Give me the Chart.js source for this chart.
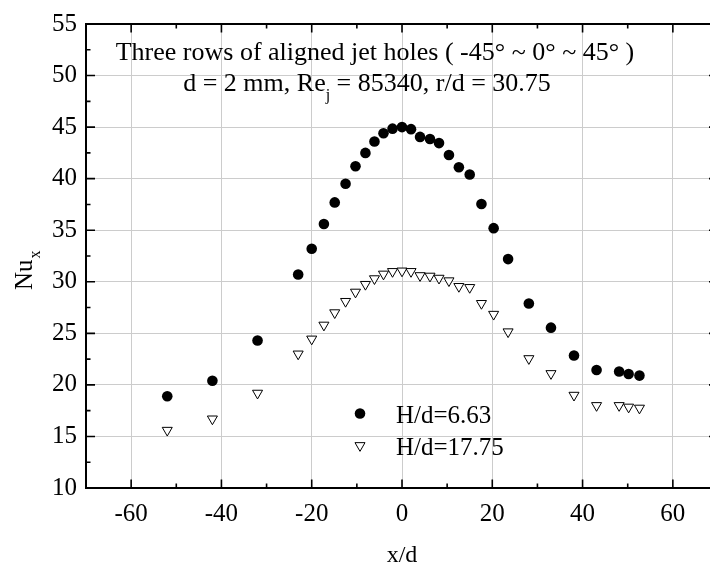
<!DOCTYPE html>
<html>
<head>
<meta charset="utf-8">
<script src="https://cdn.jsdelivr.net/npm/chart.js@4/dist/chart.umd.min.js"></script>
<style>
  html, body { margin: 0; padding: 0; background: #fff; overflow: hidden; }
  #wrap { width: 740px; height: 569px; }
</style>
</head>
<body>
<div id="wrap"><canvas id="nuChart" width="740" height="569"></canvas></div>
<script>
// x/d positions of the measurement points
const xOverD = [-52, -42, -32, -23, -20, -17.3, -14.9, -12.5, -10.3, -8.1, -6.1, -4.1, -2.1, 0, 2.0, 4.0,
  6.2, 8.2, 10.4, 12.6, 15.0, 17.6, 20.3, 23.5, 28.1, 33.0, 38.1, 43.1, 48.1, 50.2, 52.6];

// Nu_x for H/d = 6.63 (filled circles)
const nuH663 = [18.9, 20.4, 24.3, 30.7, 33.2, 35.6, 37.7, 39.5, 41.2, 42.5, 43.6, 44.4, 44.85, 45.0, 44.8, 44.05,
  43.85, 43.45, 42.3, 41.1, 40.4, 37.55, 35.2, 32.2, 27.9, 25.55, 22.85, 21.45, 21.3, 21.05, 20.9];

// Nu_x for H/d = 17.75 (open down triangles)
const nuH1775 = [15.6, 16.7, 19.2, 23.0, 24.45, 25.8, 27.0, 28.1, 29.0, 29.75, 30.3, 30.75, 31.0, 31.05, 31.0, 30.6,
  30.55, 30.35, 30.1, 29.55, 29.45, 27.9, 26.85, 25.15, 22.55, 21.1, 19.0, 18.0, 18.0, 17.85, 17.75];

const seriesNames = ["H/d=6.63", "H/d=17.75"];

// axis ticks
const xTicks = [-60, -40, -20, 0, 20, 40, 60];
const xMinorTicks = [-70, -50, -30, -10, 10, 30, 50, 70];
const yTicks = [10, 15, 20, 25, 30, 35, 40, 45, 50, 55];
const yMinorTicks = [12.5, 17.5, 22.5, 27.5, 32.5, 37.5, 42.5, 47.5, 52.5];

const FONT = "Liberation Serif";
Chart.defaults.font.family = FONT;
Chart.defaults.color = "#000";

// inward ticks, frame, annotation text, legend and axis titles
const decorations = {
  id: "decorations",
  afterDraw(chart) {
    const { ctx, chartArea: a, scales } = chart;
    const xs = scales.x, ys = scales.y;
    ctx.save();
    ctx.strokeStyle = "#000";

    // frame top + right
    ctx.lineWidth = 2;
    ctx.beginPath();
    ctx.moveTo(a.left, a.top); ctx.lineTo(a.right, a.top); ctx.lineTo(a.right, a.bottom);
    ctx.stroke();

    ctx.lineWidth = 1.6;
    ctx.beginPath();
    const xTick = (v, len) => {
      const p = xs.getPixelForValue(v);
      ctx.moveTo(p, a.bottom); ctx.lineTo(p, a.bottom - len);
      ctx.moveTo(p, a.top); ctx.lineTo(p, a.top + len);
    };
    const yTick = (v, len) => {
      const p = ys.getPixelForValue(v);
      ctx.moveTo(a.left, p); ctx.lineTo(a.left + len, p);
      ctx.moveTo(a.right, p); ctx.lineTo(a.right - len, p);
    };
    xTicks.forEach(v => xTick(v, 8.5));
    xMinorTicks.forEach(v => xTick(v, 4.5));
    yTicks.forEach(v => yTick(v, 9));
    yMinorTicks.forEach(v => yTick(v, 4.5));
    ctx.stroke();

    ctx.fillStyle = "#000";
    ctx.textBaseline = "alphabetic";

    // annotation line 1
    ctx.font = "26px " + FONT;
    ctx.textAlign = "center";
    ctx.fillText("Three rows of aligned jet holes ( -45\u00b0 ~ 0\u00b0 ~ 45\u00b0 )", 375, 59.5);

    // annotation line 2 with subscript
    const parts = [
      ["d = 2 mm, Re", 26, 0],
      ["j", 16, 9],
      [" = 85340, r/d = 30.75", 26, 0]
    ];
    let total = 0;
    parts.forEach(p => { ctx.font = p[1] + "px " + FONT; total += ctx.measureText(p[0]).width; });
    let cx = 367 - total / 2;
    ctx.textAlign = "left";
    parts.forEach(p => {
      ctx.font = p[1] + "px " + FONT;
      ctx.fillText(p[0], cx, 91 + p[2]);
      cx += ctx.measureText(p[0]).width;
    });

    // legend
    ctx.beginPath();
    ctx.arc(360, 413.5, 5.3, 0, Math.PI * 2);
    ctx.fill();
    const r = 5.8, ty = 447 - r / 4;
    ctx.beginPath();
    ctx.moveTo(360, ty + r);
    ctx.lineTo(360 - r * Math.sin(Math.PI / 3), ty - r / 2);
    ctx.lineTo(360 + r * Math.sin(Math.PI / 3), ty - r / 2);
    ctx.closePath();
    ctx.fillStyle = "#fff"; ctx.fill();
    ctx.lineWidth = 1; ctx.stroke();
    ctx.fillStyle = "#000";
    ctx.font = "25px " + FONT;
    ctx.fillText(seriesNames[0], 396, 422.5);
    ctx.fillText(seriesNames[1], 396, 454.5);

    // x title
    ctx.font = "24px " + FONT;
    ctx.textAlign = "center";
    ctx.fillText("x/d", (a.left + a.right) / 2, 561.5);

    // y title Nu_x, rotated
    ctx.translate(32, 290);
    ctx.rotate(-Math.PI / 2);
    ctx.textAlign = "left";
    ctx.font = "25px " + FONT;
    ctx.fillText("Nu", 0, 0);
    const w = ctx.measureText("Nu").width;
    ctx.font = "16px " + FONT;
    ctx.fillText("x", w + 1, 8);
    ctx.restore();
  }
};

new Chart(document.getElementById("nuChart").getContext("2d"), {
  type: "scatter",
  data: {
    datasets: [
      {
        label: seriesNames[0],
        data: xOverD.map((x, i) => ({ x, y: nuH663[i] })),
        pointStyle: "circle",
        pointRadius: 5.3,
        pointHoverRadius: 5.3,
        backgroundColor: "#000",
        borderColor: "#000",
        borderWidth: 0,
        showLine: false
      },
      {
        label: seriesNames[1],
        data: xOverD.map((x, i) => ({ x, y: nuH1775[i] })),
        pointStyle: "triangle",
        rotation: 180,
        pointRadius: 5.8,
        pointHoverRadius: 5.8,
        backgroundColor: "#fff",
        borderColor: "#000",
        borderWidth: 1,
        showLine: false
      }
    ]
  },
  options: {
    responsive: false,
    animation: false,
    devicePixelRatio: 1,
    layout: { padding: { top: 18, right: 22, left: 0, bottom: 0 } },
    plugins: { legend: { display: false }, tooltip: { enabled: false } },
    scales: {
      x: {
        type: "linear",
        min: -70,
        max: 70,
        afterBuildTicks: s => { s.ticks = xTicks.map(v => ({ value: v })); },
        afterFit: s => { s.height = 81; },
        grid: { color: "#cccccc", lineWidth: 1, drawTicks: false },
        border: { color: "#000", width: 2 },
        ticks: { color: "#000", padding: 11, font: { family: FONT, size: 25 } }
      },
      y: {
        type: "linear",
        min: 10,
        max: 55,
        afterBuildTicks: s => { s.ticks = yTicks.map(v => ({ value: v })); },
        afterFit: s => { s.width = 86; },
        grid: { color: "#cccccc", lineWidth: 1, drawTicks: false },
        border: { color: "#000", width: 2 },
        ticks: { color: "#000", padding: 9, font: { family: FONT, size: 25 } }
      }
    }
  },
  plugins: [decorations]
});
</script>
</body>
</html>
